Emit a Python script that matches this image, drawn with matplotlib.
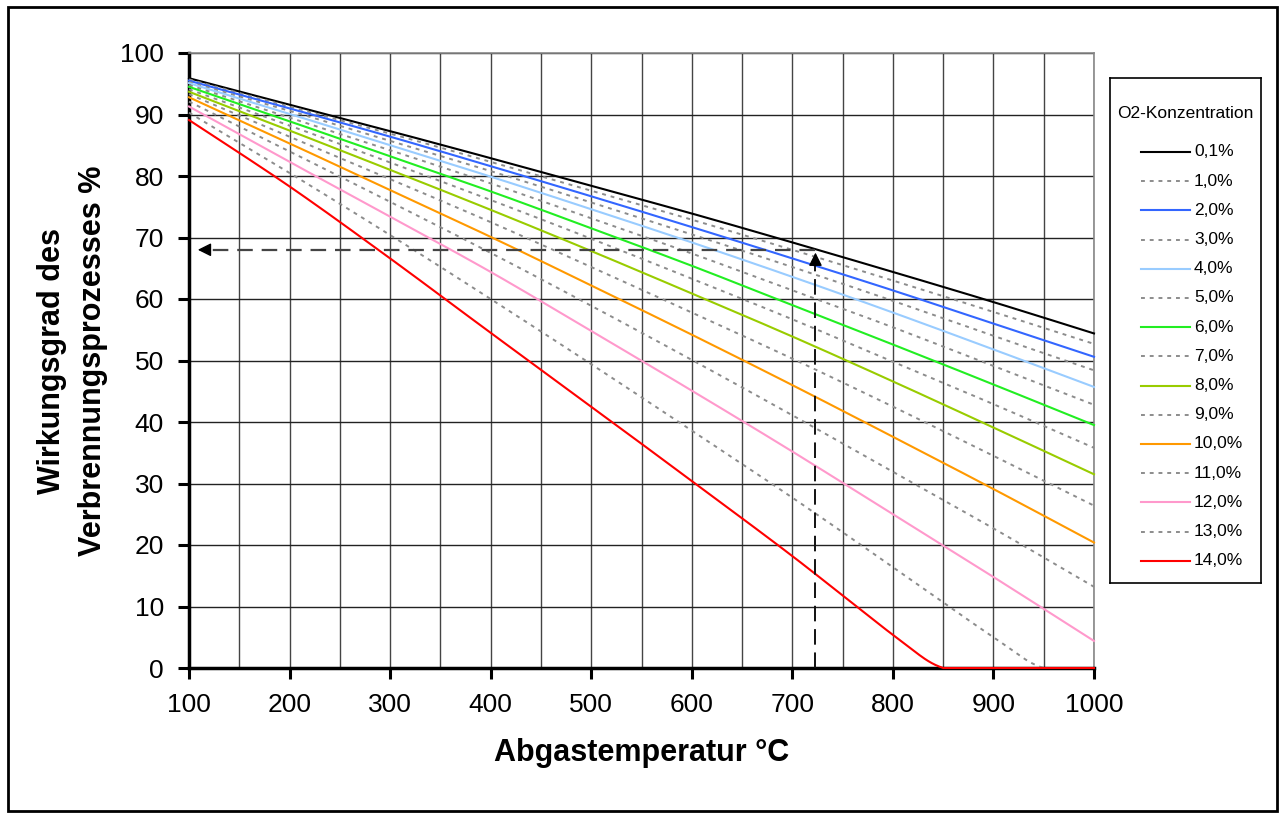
import numpy as np
import matplotlib.pyplot as plt
from matplotlib.lines import Line2D
from matplotlib.patches import Rectangle

plt.rcParams['font.family'] = ['Liberation Sans', 'DejaVu Sans']

# exhaust temperature (deg C)
temps = [100, 200, 300, 400, 500, 600, 700, 800, 900, 1000]
temps_13 = [100, 200, 300, 400, 500, 600, 700, 800, 900, 950, 1000]
temps_14 = [100, 200, 300, 400, 500, 600, 700, 800, 850, 900, 1000]

# combustion efficiency % for each O2 concentration
eta_01 = [95.9, 91.6, 87.3, 82.9, 78.4, 73.9, 69.2, 64.4, 59.5, 54.4]
eta_1 = [95.7, 91.3, 86.9, 82.3, 77.6, 72.9, 68.0, 63.0, 57.9, 52.7]
eta_2 = [95.5, 91.0, 86.4, 81.6, 76.7, 71.7, 66.6, 61.4, 56.0, 50.6]
eta_3 = [95.3, 90.6, 85.7, 80.8, 75.7, 70.5, 65.2, 59.7, 54.0, 48.4]
eta_4 = [95.1, 90.1, 85.0, 79.9, 74.6, 69.2, 63.6, 57.8, 51.8, 45.7]
eta_5 = [94.8, 89.5, 84.2, 78.8, 73.1, 67.4, 61.4, 55.4, 49.1, 42.8]
eta_6 = [94.5, 88.9, 83.2, 77.5, 71.5, 65.4, 59.0, 52.6, 46.1, 39.5]
eta_7 = [94.1, 88.2, 82.2, 76.1, 69.8, 63.3, 56.7, 49.8, 42.9, 35.8]
eta_8 = [93.7, 87.4, 81.0, 74.5, 67.8, 60.9, 53.9, 46.6, 39.1, 31.5]
eta_9 = [93.3, 86.4, 79.5, 72.5, 65.2, 57.8, 50.3, 42.5, 34.5, 26.4]
eta_10 = [92.8, 85.3, 77.7, 70.1, 62.2, 54.2, 46.0, 37.6, 29.1, 20.4]
eta_11 = [92.1, 84.0, 75.8, 67.5, 58.9, 50.1, 41.1, 31.9, 22.7, 13.2]
eta_12 = [91.3, 82.3, 73.4, 64.4, 54.8, 45.1, 35.2, 25.0, 14.8, 4.4]
eta_13 = [90.3, 80.5, 70.4, 60.0, 49.4, 38.6, 27.7, 16.4, 5.0, 0.0, 0.0]
eta_14 = [89.1, 78.3, 66.6, 54.5, 42.5, 30.4, 18.2, 5.4, 0.0, 0.0, 0.0]

labels = ['0,1%', '1,0%', '2,0%', '3,0%', '4,0%', '5,0%', '6,0%', '7,0%',
          '8,0%', '9,0%', '10,0%', '11,0%', '12,0%', '13,0%', '14,0%']

# reading example drawn with arrows
read_temp = 723
read_eta = 68

series = [
    (temps, eta_01, '#000000', '-'),
    (temps, eta_1, '#8c8c8c', 'dot'),
    (temps, eta_2, '#3366ff', '-'),
    (temps, eta_3, '#8c8c8c', 'dot'),
    (temps, eta_4, '#99ccff', '-'),
    (temps, eta_5, '#8c8c8c', 'dot'),
    (temps, eta_6, '#22ee22', '-'),
    (temps, eta_7, '#8c8c8c', 'dot'),
    (temps, eta_8, '#99cc00', '-'),
    (temps, eta_9, '#8c8c8c', 'dot'),
    (temps, eta_10, '#ff9900', '-'),
    (temps, eta_11, '#8c8c8c', 'dot'),
    (temps, eta_12, '#ff99cc', '-'),
    (temps_13, eta_13, '#8c8c8c', 'dot'),
    (temps_14, eta_14, '#ff0000', '-'),
]


def smooth(xs, ys, n=25):
    # Excel-like smoothed line (bezier through the points)
    pts = np.column_stack([xs, ys]).astype(float)
    p = np.vstack([pts[0], pts, pts[-1]])
    t = np.linspace(0, 1, n)[:, None]
    out = []
    for i in range(1, len(p) - 2):
        p0, p1, p2, p3 = p[i - 1], p[i], p[i + 1], p[i + 2]
        c1 = p1 + (p2 - p0) / 6
        c2 = p2 - (p3 - p1) / 6
        out.append((1 - t) ** 3 * p1 + 3 * (1 - t) ** 2 * t * c1
                   + 3 * (1 - t) * t ** 2 * c2 + t ** 3 * p2)
    return np.vstack(out)


W, H = 1279, 819
fig = plt.figure(figsize=(W / 100, H / 100), dpi=100)
ax = fig.add_axes([189 / W, 1 - 668 / H, (1094 - 189) / W, (668 - 53) / H])

handles = []
for xs, ys, col, ls in series:
    if ls == 'dot':
        kw = dict(color=col, lw=1.4, linestyle=(0, (2, 2.5)))
    else:
        kw = dict(color=col, lw=1.5, linestyle='-')
    pts = smooth(xs, ys)
    # the smoothed curve must not dip below the x axis
    ax.plot(pts[:, 0], np.maximum(pts[:, 1], 0), zorder=3, clip_on=False, **kw)
    handles.append(kw)

# reading arrows
ax.plot([read_temp, read_temp], [0, read_eta - 1.5], color='#111111', lw=1.4,
        linestyle=(0, (8, 4)), zorder=4)
ax.plot([read_temp, 100 + 12], [read_eta, read_eta], color='#444444', lw=1.6,
        linestyle=(0, (7, 4)), zorder=4)
ax.annotate('', xy=(read_temp, read_eta), xytext=(read_temp, read_eta - 2),
            arrowprops=dict(arrowstyle='-|>', color='black', lw=1,
                            mutation_scale=20), zorder=5)
ax.annotate('', xy=(106, read_eta), xytext=(118, read_eta),
            arrowprops=dict(arrowstyle='-|>', color='black', lw=1,
                            mutation_scale=20), zorder=5)

ax.set_xlim(100, 1000)
ax.set_ylim(0, 100)
ax.set_xticks(range(100, 1001, 100))
ax.set_xticks(range(100, 1001, 50), minor=True)
ax.set_yticks(range(0, 101, 10))
ax.grid(True, which='both', axis='x', color='#444444', lw=1)
ax.grid(True, which='major', axis='y', color='#222222', lw=1)
ax.set_axisbelow(True)
ax.tick_params(axis='both', which='major', labelsize=19, direction='out',
               length=8, width=2.2)
ax.tick_params(axis='x', which='major', pad=10)
ax.tick_params(axis='y', which='major', pad=10)
ax.tick_params(axis='x', which='minor', length=0)
for s in ['left', 'bottom']:
    ax.spines[s].set_linewidth(2.5)
for s in ['top', 'right']:
    ax.spines[s].set_color('#888888')
    ax.spines[s].set_linewidth(1.2)

ax.set_xlabel('Abgastemperatur °C', fontsize=22, fontweight='bold', labelpad=15)
ax.set_ylabel('Wirkungsgrad des\nVerbrennungsprozesses %', fontsize=22,
              fontweight='bold', labelpad=9, linespacing=1.45)

# legend box
lx0, lx1, ly0, ly1 = 1110, 1261, 78, 583
lax = fig.add_axes([lx0 / W, 1 - ly1 / H, (lx1 - lx0) / W, (ly1 - ly0) / H])
lax.set_xlim(0, lx1 - lx0)
lax.set_ylim(ly1 - ly0, 0)
lax.set_xticks([])
lax.set_yticks([])
for s in lax.spines.values():
    s.set_linewidth(1.2)
lax.text((lx1 - lx0) / 2, 35, 'O2-Konzentration', fontsize=12.5,
         ha='center', va='center')
for i, (kw, lab) in enumerate(zip(handles, labels)):
    yy = 74 + i * 29.2
    lax.add_line(Line2D([31, 80], [yy, yy], **kw))
    lax.text(84, yy, lab, fontsize=12.5, ha='left', va='center')

# outer frame
fig.patches.append(Rectangle((8 / W, 1 - 811 / H), (1277 - 8) / W, (811 - 7) / H,
                             transform=fig.transFigure, fill=False,
                             edgecolor='black', lw=2))

fig.savefig('out.png', dpi=100)
